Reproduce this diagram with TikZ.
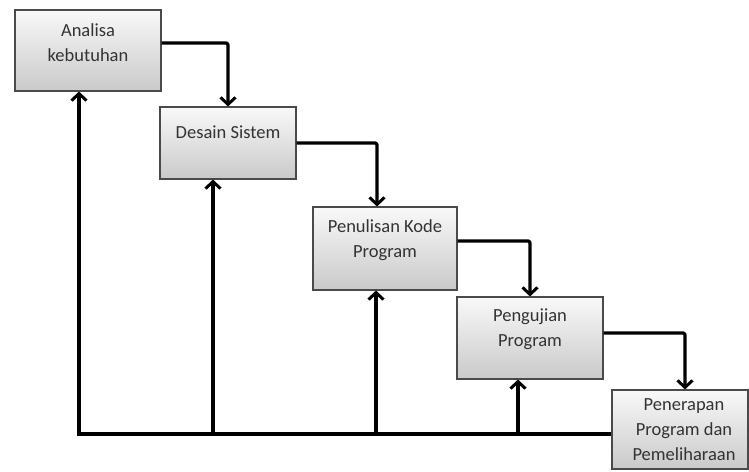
\documentclass[tikz,border=0pt]{standalone}
\usepackage{fontspec}
\setmainfont{Carlito}
\usetikzlibrary{arrows.meta}
\definecolor{txt}{HTML}{333333}
\definecolor{edge}{HTML}{4A4A4A}
\tikzset{
  boxstyle/.style={draw=edge, line width=1.1pt, top color=gray!5, bottom color=gray!42,
    inner sep=0pt, minimum width=#1},
  txtstyle/.style={text=txt, font=\fontsize{18.5}{25}\selectfont, align=center, inner sep=0pt},
  arr/.style={line width=3.3pt, line join=round, rounded corners=2pt,
    -{Straight Barb[length=7pt,width=15pt,line width=3pt]}},
  plain/.style={line width=3.3pt, line join=round}
}
\begin{document}
\begin{tikzpicture}[x=1pt,y=-1pt]
\useasboundingbox (0,0) rectangle (749,471);
% boxes
\node[boxstyle=146pt, minimum height=81pt] (b1) at (88,50.5) {};
\node[boxstyle=136pt, minimum height=72pt] (b2) at (228,143) {};
\node[boxstyle=144pt, minimum height=83pt] (b3) at (385,248.5) {};
\node[boxstyle=146pt, minimum height=82pt] (b4) at (530,338) {};
\node[boxstyle=136pt, minimum height=79pt] (b5) at (680,429.5) {};
% texts
\node[txtstyle] (t1) at (88,42.5) {Analisa\\kebutuhan};
\node[txtstyle] (t2) at (228,132) {Desain Sistem};
\node[txtstyle] (t3) at (385,240) {Penulisan Kode\\Program};
\node[txtstyle] (t4) at (530,329.5) {Pengujian\\Program};
\node[txtstyle] (t5) at (684,430) {Penerapan\\Program dan\\Pemeliharaan};
% forward arrows
\draw[arr] ([yshift=7.5pt]b1.east) -| (b2.north);
\draw[arr] (b2.east) -| ([xshift=-8pt]b3.north);
\draw[arr] ([yshift=7.5pt]b3.east) -| (b4.north);
\draw[arr] ([yshift=5pt]b4.east) -| ([xshift=5pt]b5.north);
% feedback
\coordinate (f1) at (79,434);
\coordinate (f2) at (213,434);
\coordinate (f3) at (376,434);
\coordinate (f4) at (518,434);
\draw[plain] ([yshift=-4.5pt]b5.west) -- ([xshift=-1.65pt]f1);
\draw[arr] ([yshift=1.65pt]f1) -- (f1 |- b1.south);
\draw[arr] (f2) -- (f2 |- b2.south);
\draw[arr] (f3) -- (f3 |- b3.south);
\draw[arr] (f4) -- (f4 |- b4.south);
\end{tikzpicture}
\end{document}
